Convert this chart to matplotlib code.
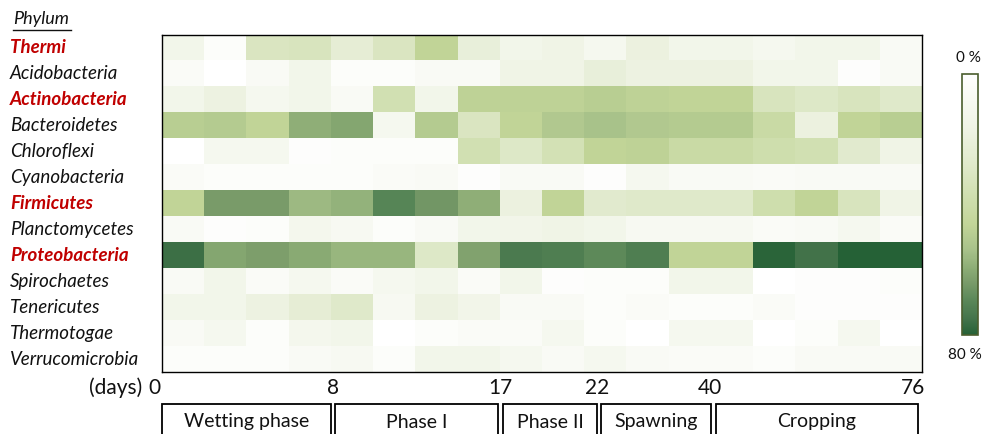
import numpy as np
import matplotlib
matplotlib.use("Agg")
import matplotlib.pyplot as plt
from matplotlib.colors import LinearSegmentedColormap
from matplotlib.patches import Rectangle
from matplotlib.transforms import blended_transform_factory

plt.rcParams["font.family"] = ["Lato", "DejaVu Sans"]

# relative abundance (%) per phylum, 18 samples over composting time
PHYLA = ["Thermi", "Acidobacteria", "Actinobacteria", "Bacteroidetes", "Chloroflexi",
         "Cyanobacteria", "Firmicutes", "Planctomycetes", "Proteobacteria", "Spirochaetes",
         "Tenericutes", "Thermotogae", "Verrucomicrobia"]
HIGHLIGHT = ["Thermi", "Actinobacteria", "Firmicutes", "Proteobacteria"]

thermi        = [13, 3, 31, 32, 23, 31, 46, 21, 13, 16, 10, 19, 13, 13, 10, 13, 13, 6]
acidobacteria = [5, 0, 6, 13, 3, 3, 6, 6, 16, 16, 21, 18, 18, 18, 13, 13, 2, 6]
actinobact    = [13, 18, 10, 13, 6, 36, 13, 47, 47, 47, 49, 47, 46, 46, 32, 29, 32, 28]
bacteroidetes = [49, 50, 46, 59, 61, 10, 50, 31, 46, 51, 54, 51, 50, 50, 41, 19, 46, 49]
chloroflexi   = [0, 10, 10, 2, 3, 3, 3, 36, 29, 35, 46, 47, 41, 41, 38, 36, 26, 16]
cyanobacteria = [5, 3, 3, 3, 3, 5, 6, 2, 6, 6, 2, 10, 6, 6, 5, 6, 6, 6]
firmicutes    = [46, 64, 64, 56, 58, 70, 65, 59, 19, 46, 26, 28, 28, 28, 38, 46, 32, 16]
planctomyc    = [6, 2, 3, 11, 8, 3, 6, 13, 14, 16, 13, 8, 8, 8, 5, 6, 10, 5]
proteobact    = [76, 61, 63, 60, 57, 57, 29, 62, 73, 72, 69, 72, 46, 46, 79, 75, 80, 80]
spirochaetes  = [6, 13, 5, 10, 5, 10, 13, 5, 13, 2, 3, 3, 13, 13, 0, 2, 2, 3]
tenericutes   = [13, 13, 18, 23, 28, 8, 18, 14, 6, 6, 3, 5, 3, 3, 5, 2, 2, 2]
thermotogae   = [6, 10, 3, 11, 13, 0, 3, 5, 5, 10, 3, 0, 10, 10, 0, 3, 10, 0]
verrucomicro  = [3, 3, 3, 6, 8, 3, 13, 13, 10, 6, 10, 6, 5, 5, 3, 6, 6, 6]

DAY_LABELS = ["0", "8", "17", "22", "40", "76"]
PHASES = ["Wetting phase", "Phase I", "Phase II", "Spawning", "Cropping"]

M = np.array([thermi, acidobacteria, actinobact, bacteroidetes, chloroflexi, cyanobacteria,
              firmicutes, planctomyc, proteobact, spirochaetes, tenericutes, thermotogae,
              verrucomicro], dtype=float)

CMAP = LinearSegmentedColormap.from_list("greens", [
    (0.0, "#ffffff"), (0.2, "#f0f4e6"), (0.35, "#dfe9ca"), (0.45, "#d2e1b3"),
    (0.575, "#c2d598"), (0.675, "#a8c28a"), (0.75, "#8aab74"), (0.8, "#799b69"),
    (0.875, "#588657"), (0.9375, "#44744b"), (1.0, "#256136")])

W, H = 984, 434
fig = plt.figure(figsize=(W / 100, H / 100), dpi=100)

def fx(px): return px / W
def fy(py): return 1 - py / H

ax = fig.add_axes([fx(161.7), fy(372), (921.7 - 161.7) / W, (372 - 35) / H])
im = ax.imshow(M, cmap=CMAP, vmin=0, vmax=80, aspect="auto", interpolation="nearest")
ax.set_xticks([]); ax.set_yticks([])
for s in ax.spines.values():
    s.set_linewidth(1.0); s.set_color("black")

# row labels
tr = blended_transform_factory(fig.transFigure, ax.transData)
for i, p in enumerate(PHYLA):
    hl = p in HIGHLIGHT
    ax.text(fx(10), i, p, transform=tr, ha="left", va="center", fontsize=13.5, style="italic",
            fontweight="bold" if hl else "normal", color="#c00000" if hl else "#111111")
fig.text(fx(13), fy(19), "Phylum", ha="left", va="center", fontsize=13, style="italic", color="#111111")
fig.add_artist(plt.Line2D([fx(13), fx(71)], [fy(30), fy(30)], color="#111111", lw=1.0))

# day axis
day_x = [-0.68, 3.56, 7.51, 9.81, 12.49, 17.29]
trd = blended_transform_factory(ax.transData, fig.transFigure)
for x, lab in zip(day_x, DAY_LABELS):
    ax.text(x, fy(388), lab, transform=trd, ha="center", va="center", fontsize=15, color="#111111")
fig.text(fx(142), fy(388), "(days)", ha="right", va="center", fontsize=15, color="#111111")

# phase boxes
box_px = [(161.7, 331), (335, 498), (503, 597), (601, 711), (716, 918)]
for (l, r), name in zip(box_px, PHASES):
    fig.add_artist(Rectangle((fx(l), fy(450)), (r - l) / W, (450 - 404) / H, transform=fig.transFigure,
                             fill=False, edgecolor="black", lw=1.3, clip_on=False))
    fig.text(fx((l + r) / 2), fy(422), name, ha="center", va="center", fontsize=14, color="#111111")

# colour bar
cax = fig.add_axes([fx(962), fy(335), 16 / W, (335 - 74) / H])
cb = fig.colorbar(im, cax=cax)
cb.set_ticks([])
cax.invert_yaxis()
cb.outline.set_edgecolor("#4a5e2e"); cb.outline.set_linewidth(1.2)
fig.text(fx(968), fy(58), "0 %", ha="center", va="center", fontsize=11, color="#111111")
fig.text(fx(965), fy(355), "80 %", ha="center", va="center", fontsize=11, color="#111111")

fig.savefig("out.png", dpi=100)
